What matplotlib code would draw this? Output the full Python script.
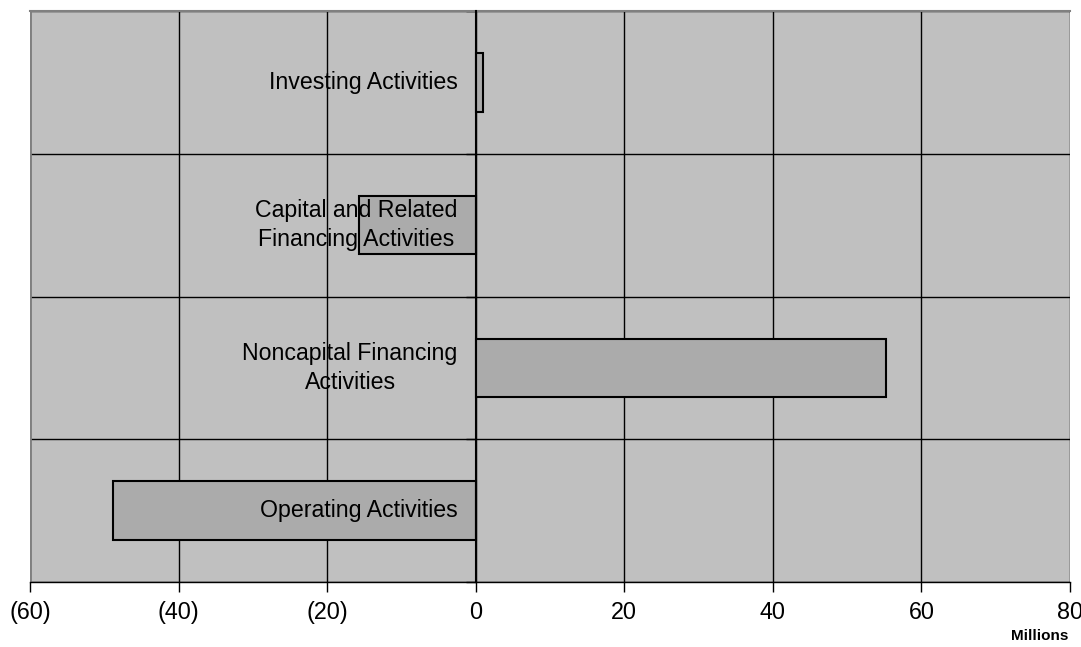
import numpy as np
import matplotlib.pyplot as plt

categories = ["Operating Activities",
              "Noncapital Financing\nActivities",
              "Capital and Related\nFinancing Activities",
              "Investing Activities"]
values = [-48.8, 55.2, -15.7, 1.0]
xticks = [-60, -40, -20, 0, 20, 40, 60, 80]
xtick_labels = ["(60)", "(40)", "(20)", "0", "20", "40", "60", "80"]

plt.rcParams['font.family'] = ['Liberation Sans', 'DejaVu Sans']

fig = plt.figure(figsize=(10.81, 6.47), dpi=100)
ax = fig.add_axes([30/1081, 1-582/647, 1040/1081, 571/647])
ax.set_facecolor("#C0C0C0")

y = np.arange(len(categories))
ax.barh(y, values, height=0.41, color="#ABABAB", edgecolor="black", linewidth=1.5, zorder=3)

ax.set_xlim(-60, 80)
ax.set_ylim(-0.5, len(categories) - 0.5)
ax.set_xticks(xticks)
ax.set_xticklabels(xtick_labels, fontsize=16.8)
ax.tick_params(axis="x", length=7, width=1, direction="out", pad=7, colors="black")

# category boundaries as y ticks, axis line at zero
ax.set_yticks(np.arange(len(categories) + 1) - 0.5)
ax.set_yticklabels([])
ax.tick_params(axis="y", length=7, width=1, direction="out")
ax.spines["left"].set_position(("data", 0))
ax.spines["left"].set_linewidth(1.5)
ax.spines["left"].set_zorder(4)

ax.grid(True, color="black", linewidth=1)
ax.set_axisbelow(True)

ax.spines["top"].set_color("#808080")
ax.spines["top"].set_linewidth(1.5)
ax.spines["right"].set_visible(False)
ax.spines["bottom"].set_color("black")
ax.spines["bottom"].set_linewidth(1)
# gray frame on the left edge
ax.axvline(-60, color="#808080", linewidth=2, zorder=2)

for yi, label in zip(y, categories):
    ax.annotate(label, xy=(0, yi), xytext=(-18, 0), textcoords="offset pixels",
                ha="right", va="center", multialignment="center",
                fontsize=16.7, linespacing=1.3, zorder=5)

fig.text(1068/1081, 1-636/647, "Millions", ha="right", va="center",
         fontsize=11, fontweight="bold")

fig.savefig("out.png", dpi=100)
